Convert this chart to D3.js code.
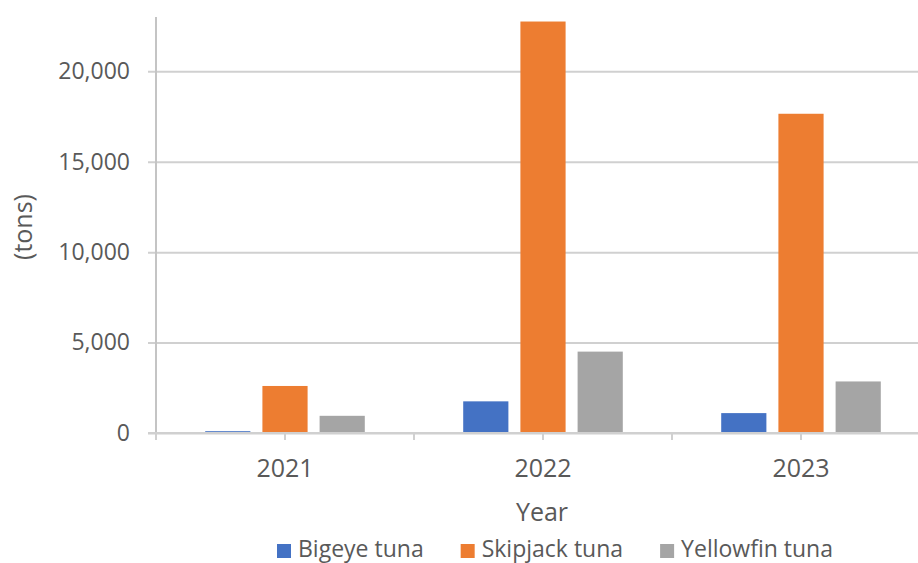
<!DOCTYPE html>
<html>
<head>
<meta charset="utf-8">
<script src="https://cdn.jsdelivr.net/npm/d3@7"></script>
<style>
  html, body { margin: 0; padding: 0; background: #ffffff; }
  svg { display: block; font-family: "Open Sans", "Noto Sans", sans-serif; }
</style>
</head>
<body>
<svg id="chart" width="918" height="563"></svg>
<script>
// ---- data ----
const years = ["2021", "2022", "2023"];
const seriesNames = ["Bigeye tuna", "Skipjack tuna", "Yellowfin tuna"];
const bigeye = [100, 1750, 1100];
const skipjack = [2600, 22750, 17650];
const yellowfin = [950, 4500, 2850];
const yTicks = [0, 5000, 10000, 15000, 20000];
const colors = ["#4472C4", "#ED7D31", "#A5A5A5"];
const xTitle = "Year";
const yTitle = "(tons)";

const seriesValues = [bigeye, skipjack, yellowfin];
const rows = years.map((yr, i) => ({
  year: yr,
  values: seriesNames.map((s, j) => ({ key: s, value: seriesValues[j][i], color: colors[j] }))
}));

// ---- layout ----
const W = 918, H = 563;
const plotLeft = 156, plotRight = 930, plotTop = 17, plotBottom = 433;
const textColor = "#595959";
const gridColor = "#d0d0d0";
const axisColor = "#c4c4c4";
const yFont = 23, xFont = 25, titleFont = 25, legendFont = 23;

const svg = d3.select("#chart");

const x = d3.scaleBand().domain(years).range([plotLeft, plotRight]).padding(0);
const groupHalf = 85.8;
const xInner = d3.scaleBand()
  .domain(seriesNames)
  .range([x.bandwidth() / 2 - groupHalf, x.bandwidth() / 2 + groupHalf])
  .paddingInner(0.21)
  .paddingOuter(0.105);

const y = d3.scaleLinear().domain([0, 23000]).range([plotBottom, plotTop]);

// gridlines + y labels via axis
const yAxisG = svg.append("g")
  .attr("transform", `translate(${plotLeft - 8},0)`)
  .call(d3.axisLeft(y)
    .tickValues(yTicks)
    .tickFormat(d3.format(","))
    .tickSizeInner(-(W - plotLeft + 8))
    .tickSizeOuter(0)
    .tickPadding(18));
yAxisG.select(".domain").remove();
yAxisG.selectAll(".tick line").attr("stroke", gridColor).attr("stroke-width", 2);
yAxisG.selectAll(".tick text")
  .attr("fill", textColor)
  .style("font-size", yFont + "px")
  .style("font-family", "'Open Sans', sans-serif");

// bars
const groups = svg.append("g").selectAll("g")
  .data(rows)
  .join("g")
  .attr("transform", d => `translate(${x(d.year)},0)`);
groups.selectAll("rect")
  .data(d => d.values)
  .join("rect")
  .attr("x", d => xInner(d.key))
  .attr("width", xInner.bandwidth())
  .attr("y", d => y(d.value))
  .attr("height", d => y(0) - y(d.value))
  .attr("fill", d => d.color);

// y axis line
svg.append("line")
  .attr("x1", plotLeft).attr("x2", plotLeft)
  .attr("y1", plotTop).attr("y2", y(0) + 7)
  .attr("stroke", axisColor).attr("stroke-width", 2);

// x axis line
svg.append("line")
  .attr("x1", plotLeft - 8).attr("x2", W)
  .attr("y1", y(0)).attr("y2", y(0))
  .attr("stroke", gridColor).attr("stroke-width", 2);

// x tick marks at band edges and centres
const tickXs = [];
years.forEach(yr => { tickXs.push(x(yr)); tickXs.push(x(yr) + x.bandwidth() / 2); });
tickXs.push(x(years[years.length - 1]) + x.bandwidth());
svg.append("g").selectAll("line")
  .data(tickXs)
  .join("line")
  .attr("x1", d => d).attr("x2", d => d)
  .attr("y1", y(0)).attr("y2", y(0) + 7)
  .attr("stroke", gridColor).attr("stroke-width", 2);

// x labels via axis
const xAxisG = svg.append("g")
  .attr("transform", `translate(0,${y(0)})`)
  .call(d3.axisBottom(x).tickSize(0).tickPadding(0));
xAxisG.select(".domain").remove();
xAxisG.selectAll(".tick text")
  .attr("y", 44).attr("dy", "0")
  .attr("fill", textColor)
  .style("font-size", xFont + "px")
  .style("font-family", "'Open Sans', sans-serif");

// axis titles
svg.append("text")
  .attr("x", 542).attr("y", 521)
  .attr("text-anchor", "middle")
  .attr("fill", textColor)
  .style("font-size", titleFont + "px")
  .text(xTitle);

svg.append("text")
  .attr("transform", "translate(32,227) rotate(-90)")
  .attr("text-anchor", "middle")
  .attr("fill", textColor)
  .style("font-size", titleFont + "px")
  .text(yTitle);

// legend
const legend = svg.append("g");
let lx = 277;
seriesNames.forEach((name, i) => {
  const item = legend.append("g").attr("transform", `translate(${lx},0)`);
  item.append("rect")
    .attr("x", 0).attr("y", 544)
    .attr("width", 14).attr("height", 14)
    .attr("fill", colors[i]);
  const t = item.append("text")
    .attr("x", 21).attr("y", 557)
    .attr("fill", textColor)
    .style("font-size", legendFont + "px")
    .text(name);
  const w = t.node().getComputedTextLength();
  lx += 21 + w + 37;
});
</script>
</body>
</html>
